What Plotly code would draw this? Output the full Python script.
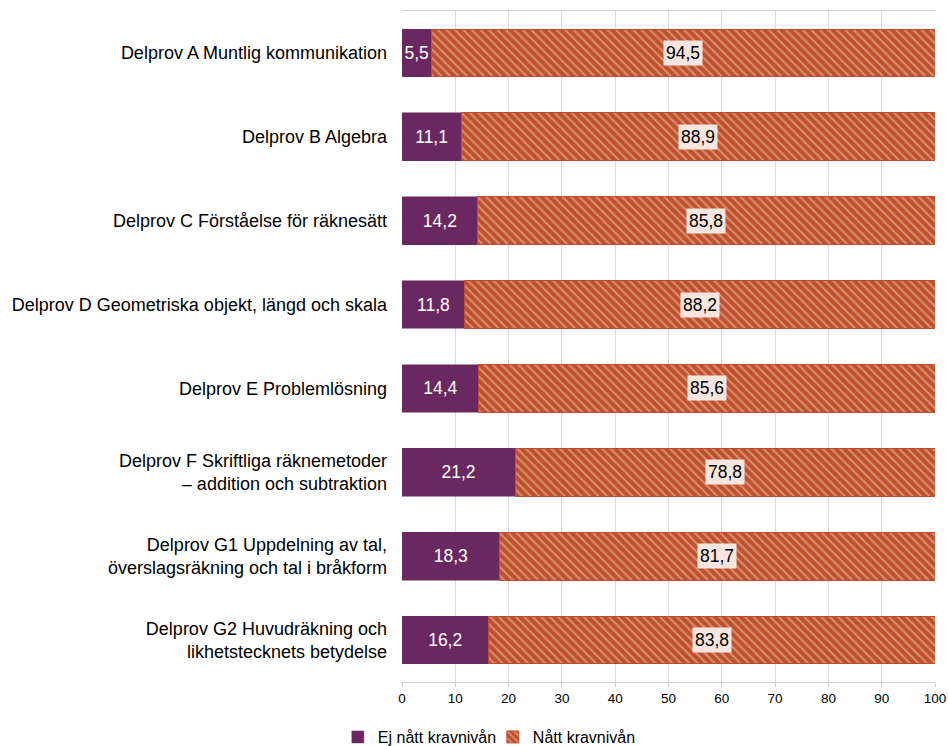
import plotly.graph_objects as go

categories = [
    "Delprov A Muntlig kommunikation",
    "Delprov B Algebra",
    "Delprov C Förståelse för räknesätt",
    "Delprov D Geometriska objekt, längd och skala",
    "Delprov E Problemlösning",
    "Delprov F Skriftliga räknemetoder<br>– addition och subtraktion",
    "Delprov G1 Uppdelning av tal,<br>överslagsräkning och tal i bråkform",
    "Delprov G2 Huvudräkning och<br>likhetstecknets betydelse",
]
ej_natt = [5.5, 11.1, 14.2, 11.8, 14.4, 21.2, 18.3, 16.2]
natt = [94.5, 88.9, 85.8, 88.2, 85.6, 78.8, 81.7, 83.8]
x_ticks = [0, 10, 20, 30, 40, 50, 60, 70, 80, 90, 100]

PURPLE = "#6A2860"
ORANGE = "#C0502B"
FONT = "Liberation Sans, Arial, sans-serif"

def fmt(v):
    return f"{v:.1f}".replace(".", ",")

fig = go.Figure()
fig.add_trace(go.Bar(
    y=categories, x=ej_natt, orientation="h", name="Ej nått kravnivån",
    marker=dict(color=PURPLE, line=dict(color=PURPLE, width=0.5)),
    text=[fmt(v) for v in ej_natt], textposition="inside",
    insidetextanchor="middle", textangle=0, constraintext="none",
    textfont=dict(color="white", size=17.5, family=FONT),
    hoverinfo="skip",
))
fig.add_trace(go.Bar(
    y=categories, x=natt, orientation="h", name="Nått kravnivån",
    marker=dict(color=ORANGE, line=dict(color=ORANGE, width=1),
                pattern=dict(shape="\\", fgcolor="#F1CDBE", bgcolor=ORANGE,
                             size=6, solidity=0.35)),
    hoverinfo="skip",
))

for c, a, b in zip(categories, ej_natt, natt):
    fig.add_annotation(
        x=a + b / 2, y=c, xref="x", yref="y", text=fmt(b), showarrow=False,
        bgcolor="#F6E6DF", borderpad=2,
        font=dict(color="black", size=17.5, family=FONT),
    )

fig.update_layout(
    width=949, height=746,
    barmode="stack", bargap=0.43,
    paper_bgcolor="white", plot_bgcolor="white",
    margin=dict(l=402, r=14, t=11, b=64, autoexpand=False),
    font=dict(family=FONT, size=16, color="black"),
    showlegend=True,
    legend=dict(orientation="h", xref="container", x=0.356, xanchor="left",
                yref="paper", y=-0.082, yanchor="middle",
                font=dict(size=16), itemwidth=30, traceorder="normal",
                tracegroupgap=0, entrywidth=110),
)
fig.update_xaxes(
    range=[0, 100], tickvals=x_ticks, ticktext=[str(t) for t in x_ticks],
    showgrid=True, gridcolor="#D9D9D9", gridwidth=1,
    showline=True, mirror=True, linecolor="#D0D0D0", ticks="outside",
    tickcolor="#C8C8C8", ticklen=4, tickfont=dict(size=13.5), zeroline=False,
    automargin=False,
)
fig.update_yaxes(
    autorange="reversed", showgrid=False, showline=False, ticks="",
    tickfont=dict(size=18), ticklabelstandoff=14, automargin=False,
)

fig.write_html(
    "out.html",
    config={"displayModeBar": False},
    post_script="document.body.style.margin='0';document.body.style.overflow='hidden';",
)
